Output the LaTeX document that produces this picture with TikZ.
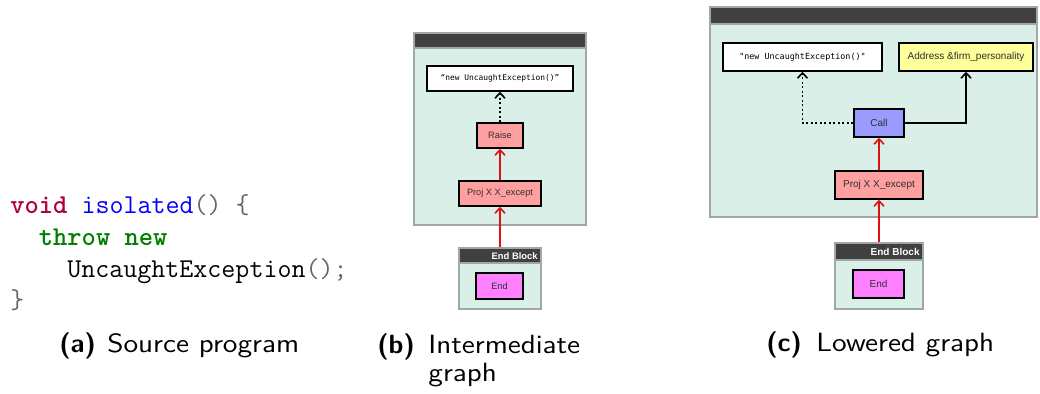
\documentclass[tikz,border=0pt]{standalone}
\usepackage{fontspec}
\newfontfamily\graphfont{Liberation Sans}
\newfontfamily\strfont{DejaVu Sans Mono}
\usetikzlibrary{arrows.meta,fit}

\definecolor{kwtype}{HTML}{B00040}
\definecolor{kwflow}{HTML}{008000}
\definecolor{fnname}{HTML}{0000FF}
\definecolor{punct}{HTML}{666666}
\definecolor{mint}{HTML}{DAEFE8}
\definecolor{framegray}{HTML}{9FA8A4}
\definecolor{headgray}{HTML}{404040}
\definecolor{projpink}{HTML}{FFA0A0}
\definecolor{callblue}{HTML}{9A9AFF}
\definecolor{addryellow}{HTML}{FFFF9C}
\definecolor{endmagenta}{HTML}{FF80FF}
\definecolor{labgray}{HTML}{2E2E2E}
\definecolor{flowred}{HTML}{E01010}

% caption text, set a little wider than the plain sans
\newcommand\captext[1]{\scalebox{1.13}[1]{#1}}

\begin{document}
\begin{tikzpicture}[x=0.5pt,y=-0.5pt,
  code/.style={inner sep=0pt, anchor=base west, font=\fontsize{13.6}{15}\selectfont\ttfamily},
  caption/.style={inner sep=0pt, anchor=base west, font=\fontsize{13.2}{15}\selectfont\sffamily},
  frame/.style={draw=framegray, fill=mint, line width=0.75pt, inner sep=0pt},
  header/.style={draw=framegray, fill=headgray, line width=0.75pt, inner sep=0pt},
  gnode/.style={draw=black, line width=0.85pt, inner sep=0pt},
  labb/.style={font=\fontsize{4.6}{5}\selectfont\graphfont, text=labgray, inner sep=0pt},
  labc/.style={font=\fontsize{5}{6}\selectfont\graphfont, text=labgray, inner sep=0pt},
  strb/.style={font=\fontsize{3.95}{5}\selectfont\strfont, text=black, inner sep=0pt},
  strc/.style={font=\fontsize{4.2}{5}\selectfont\strfont, text=black, inner sep=0pt},
  blocktitle/.style={font=\fontsize{#1}{6}\selectfont\graphfont\bfseries, text=white, inner sep=0pt, anchor=east},
  tip/.style={-{Straight Barb[length=2.6pt,width=5pt,line width=0.8pt]}},
  controlflow/.style={tip, draw=flowred, line width=0.8pt},
  dataflow/.style={tip, draw=black, line width=0.8pt, dash pattern=on 1pt off 1.25pt},
  callflow/.style={tip, draw=black, line width=0.8pt},
]
\useasboundingbox (0,0) rectangle (1040,394);

% ---- (a) source program ----
\node[code] (code1) at (10,214) {\textcolor{kwtype}{\bfseries void} \textcolor{fnname}{isolated}\textcolor{punct}{() \{}};
\node[code] (code2) at (38.5,246) {\textcolor{kwflow}{\bfseries throw new}};
\node[code] (code3) at (67,278) {UncaughtException\textcolor{punct}{();}};
\node[code] (code4) at (10,309) {\textcolor{punct}{\}}};
\node[caption] (capa) at (59,353) {\bfseries (a)};
\node[caption] (capatext) at (107,353) {\captext{Source program}};

% ---- (b) intermediate graph ----
\node[frame, fit={(414,33) (586,225)}] (bframe) {};
\node[header, fit={(414,33) (586,48)}] (bhead) {};
\node[gnode, fill=white, fit={(427,66) (573,91)},
      label={[strb]center:“new UncaughtException()”}] (bstr) {};
\node[gnode, fill=projpink, fit={(477,123) (523,148)},
      label={[labb]center:Raise}] (braise) {};
\node[gnode, fill=projpink, fit={(459,181) (541,206)},
      label={[labb]center:Proj X X\_except}] (bproj) {};
\node[frame, fit={(459,248) (541,309)}] (bendblk) {};
\node[header, fit={(459,248) (541,263)}] (bendhead) {};
\node[blocktitle=4.7] (bendtitle) at (538,256) {End Block};
\node[gnode, fill=endmagenta, fit={(476,273) (523,299)},
      label={[labb]center:End}] (bend) {};

\draw[controlflow] (bendblk.north) -- (bproj.south);
\draw[controlflow] (bproj.north) -- (braise.south);
\draw[dataflow] (braise.north) -- (bstr.south);

\node[caption] (capb) at (377,354) {\bfseries (b)};
\node[caption] (capbtext) at (428,354) {\captext{Intermediate}};
\node[caption] (capbtext2) at (428,382) {\captext{graph}};

% ---- (c) lowered graph ----
\node[frame, fit={(710,7) (1037,217)}] (cframe) {};
\node[header, fit={(710,7) (1037,24)}] (chead) {};
\node[gnode, fill=white, fit={(723,43) (882,71)},
      label={[strc]center:"new UncaughtException()"}] (cstr) {};
\node[gnode, fill=addryellow, fit={(899,43) (1033,71)},
      label={[labc]center:{Address \&firm\_personality}}] (caddr) {};
\node[gnode, fill=callblue, fit={(854,109) (904,137)},
      label={[labc]center:Call}] (ccall) {};
\node[gnode, fill=projpink, fit={(835,171) (923,199)},
      label={[labc]center:Proj X X\_except}] (cproj) {};
\node[frame, fit={(835,243) (923,309)}] (cendblk) {};
\node[header, fit={(835,243) (923,260)}] (cendhead) {};
\node[blocktitle=5] (cendtitle) at (920,251.5) {End Block};
\node[gnode, fill=endmagenta, fit={(853,270) (904,298)},
      label={[labc]center:End}] (cend) {};

\draw[controlflow] (cendblk.north) -- (cproj.south);
\draw[controlflow] (cproj.north) -- (ccall.south);
\draw[dataflow] (ccall.west) -| (cstr.south);
\draw[callflow] (ccall.east) -| (caddr.south);

\node[caption] (capc) at (766,352) {\bfseries (c)};
\node[caption] (capctext) at (816,352) {\captext{Lowered graph}};
\end{tikzpicture}
\end{document}
